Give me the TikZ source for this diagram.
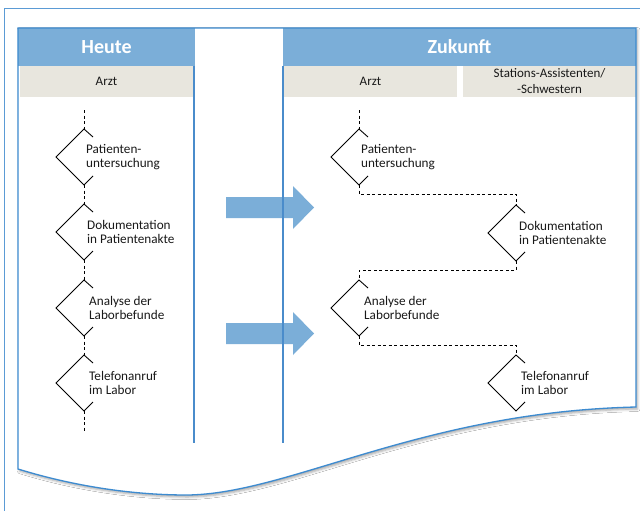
\documentclass[tikz,border=0pt]{standalone}
\usepackage{fontspec}
\setmainfont{Carlito}
\usetikzlibrary{shadows.blur}
\definecolor{hdblue}{HTML}{7BAED8}
\definecolor{docblue}{HTML}{3D8BD0}
\definecolor{frameblue}{HTML}{5B9BD5}
\definecolor{beigebg}{HTML}{E8E6DE}
\definecolor{lineblue}{HTML}{4A8CCB}
\tikzset{
  hdr/.style={fill=hdblue, text=white, font=\fontsize{20}{23}\selectfont\bfseries, inner sep=0, minimum width=177pt, minimum height=38pt},
  subhdr/.style={fill=beigebg, text=black!90, font=\fontsize{13}{16}\selectfont, inner sep=0, align=center, minimum width=173pt, minimum height=31pt},
  diashape/.style={draw=black, line width=0.9pt, line join=miter},
  diatext/.style={font=\fontsize{13.2}{14.5}\selectfont, text=black!90, align=left, inner sep=0, anchor=west},
  flowdash/.style={draw=black, line width=0.9pt, dash pattern=on 3pt off 2.5pt},
  colline/.style={draw=lineblue, line width=1.2pt},
  bigarrow/.style={fill=hdblue},
}
\newcommand\flowdia[5]{% name, cx, cy, text offset, text
  \coordinate (#1-t) at (#2,{#3-28});
  \coordinate (#1-b) at (#2,{#3+28});
  \draw[diashape] ({#2+9},{#3-20}) -- (#1-t) -- ({#2-28},#3) -- (#1-b) -- ({#2+9},{#3+19});
  \node[diatext] (#1) at ({#2+#4},#3) {#5};
}
\begin{document}
\begin{tikzpicture}[x=1pt,y=-1pt]
\useasboundingbox (0,0) rectangle (640,511);
\fill[white] (0,0) rectangle (640,511);
% outer frame
\draw[frameblue, line width=1pt] (4,520) -- (4,9) -- (650,9);
% document shape
\path[fill=white, blur shadow={shadow xshift=1.5pt, shadow yshift=-2pt, shadow blur radius=2.5pt, shadow opacity=35}]
  (18,28) -- (636,28) -- (636,407) .. controls (420,412) and (290,494) .. (187,495)
  .. controls (120,495) and (60,482) .. (18,469) -- cycle;
% headers
\node[hdr] (heute) at (106.5,47) {Heute};
\node[hdr, minimum width=353pt] (zukunft) at (459.5,47) {Zukunft};
\node[subhdr] (h-arzt) at (106.5,81.5) {Arzt};
\node[subhdr] (z-arzt) at (370.5,81.5) {Arzt};
\node[subhdr] (z-stat) at (549.5,81.5) {Stations-Assistenten/\\-Schwestern};
% Heute flow
\flowdia{h1}{84}{157}{2}{Patienten-\\untersuchung}
\flowdia{h2}{84}{232}{3}{Dokumentation\\in Patientenakte}
\flowdia{h3}{84}{308}{5}{Analyse der\\Laborbefunde}
\flowdia{h4}{84}{383}{5}{Telefonanruf\\im Labor}
\coordinate (h-start) at (84,110);
\coordinate (h-end) at (84,432);
\draw[flowdash] (h-start) -- (h1-t);
\draw[flowdash] (h1-b) -- (h2-t);
\draw[flowdash] (h2-b) -- (h3-t);
\draw[flowdash] (h3-b) -- (h4-t);
\draw[flowdash] (h4-b) -- (h-end);
% Zukunft flow
\flowdia{z1}{359}{157}{2}{Patienten-\\untersuchung}
\flowdia{z2}{516}{233}{3}{Dokumentation\\in Patientenakte}
\flowdia{z3}{359}{308}{5}{Analyse der\\Laborbefunde}
\flowdia{z4}{516}{383}{5}{Telefonanruf\\im Labor}
\coordinate (z-start) at (359,110);
\draw[flowdash] (z-start) -- (z1-t);
\draw[flowdash] (z1-b) -- ++(0,9) -| (z2-t);
\draw[flowdash] (z2-b) -- ++(0,9) -| (z3-t);
\draw[flowdash] (z3-b) -- ++(0,9) -| (z4-t);
% big arrows
\fill[bigarrow] (226,197) -- (293,197) -- (293,186) -- (314,207.5) -- (293,229) -- (293,218) -- (226,218) -- cycle;
\fill[bigarrow] (226,323) -- (293,323) -- (293,312) -- (314,333.5) -- (293,355) -- (293,344) -- (226,344) -- cycle;
% column lines
\coordinate (l1t) at (194,66); \coordinate (l1b) at (194,443);
\coordinate (l2t) at (283,66); \coordinate (l2b) at (283,443);
\draw[colline] (l1t) -- (l1b);
\draw[colline] (l2t) -- (l2b);
% document border
\draw[docblue, line width=1.3pt, line join=miter]
  (18,28) -- (636,28) -- (636,407) .. controls (420,412) and (290,494) .. (187,495)
  .. controls (120,495) and (60,482) .. (18,469) -- cycle;
\end{tikzpicture}
\end{document}
